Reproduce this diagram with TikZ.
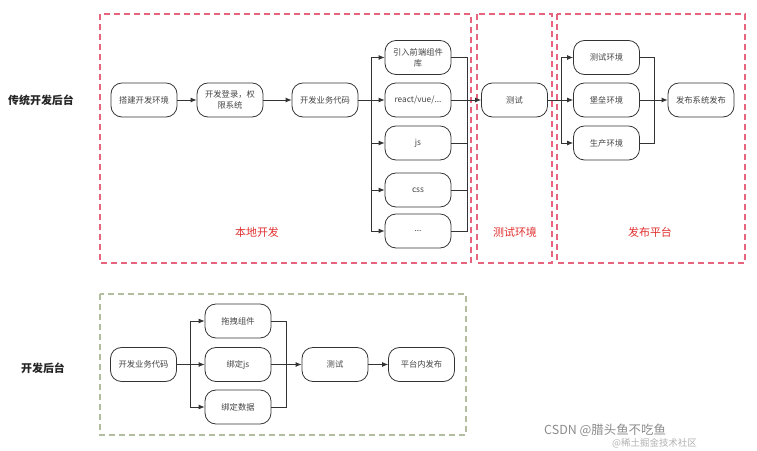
\documentclass[tikz,border=0pt]{standalone}
\usepackage{fontspec}
\newfontfamily\cjk{Noto Sans CJK SC}
\usetikzlibrary{arrows.meta}
\definecolor{ln}{HTML}{333333}
\definecolor{tx}{HTML}{444444}
\definecolor{redlab}{HTML}{E0302F}
\definecolor{framered}{HTML}{E6647E}
\definecolor{framegreen}{HTML}{B2BC9E}
\tikzset{
  box/.style={draw=ln, line width=0.8pt, rounded corners=11pt, minimum width=66bp, minimum height=34bp,
    align=center, inner sep=2pt, text=tx, font=\cjk\fontsize{8.3}{11}\selectfont},
  arr/.style={draw=ln, line width=0.8pt, -{Latex[length=6pt,width=5pt]}},
  plainline/.style={draw=ln, line width=0.8pt},
  redframe/.style={draw=framered, line width=1.3bp, dash pattern=on 6bp off 4bp},
  greenframe/.style={draw=framegreen, line width=1.3bp, dash pattern=on 6bp off 4bp},
  seclab/.style={text=redlab, font=\cjk\fontsize{11}{12}\selectfont},
  rowlab/.style={text=black!85, font=\cjk\bfseries\fontsize{11}{12}\selectfont},
}
\begin{document}
\begin{tikzpicture}[x=1bp,y=-1bp]
\useasboundingbox (0,0) rectangle (757,451);
\fill[white] (0,0) rectangle (757,451);
% frames
\draw[redframe] (100,14) rectangle (471,263);
\draw[redframe] (477,14) rectangle (552,263);
\draw[redframe] (557,14) rectangle (745,263);
\draw[greenframe] (100,294) rectangle (466,435);
% labels
\node[rowlab] (L1) at (41,100) {传统开发后台};
\node[rowlab] (L2) at (43,368) {开发后台};
\node[seclab] (S1) at (257,232) {本地开发};
\node[seclab] (S2) at (515,232) {测试环境};
\node[seclab] (S3) at (650,232) {发布平台};
% top row nodes
\node[box] (a1) at (144,100) {搭建开发环境};
\node[box] (a2) at (230,100) {开发登录，权\\限系统};
\node[box] (a3) at (325,100) {开发业务代码};
\node[box] (c1) at (418,57.5) {引入前端组件\\库};
\node[box] (c2) at (418,100) {react/vue/...};
\node[box] (c3) at (418,143) {js};
\node[box] (c4) at (418,190) {css};
\node[box] (c5) at (418,231) {...};
\node[box] (t1) at (514.5,100) {测试};
\node[box] (p1) at (606.5,57.5) {测试环境};
\node[box] (p2) at (606.5,100) {堡垒环境};
\node[box] (p3) at (606.5,143) {生产环境};
\node[box] (r1) at (701,100) {发布系统发布};
\coordinate (b1) at (371,100);
\coordinate (m1) at (467,100);
\coordinate (b2) at (561,100);
\coordinate (m2) at (654,100);
\draw[arr] (a1) -- (a2);
\draw[arr] (a2) -- (a3);
\draw[plainline] (a3.east) -- (b1);
\foreach \n in {c1,c2,c3,c4,c5} {
  \draw[arr] (b1) |- (\n.west);
  \draw[plainline] (\n.east) -| (m1);
}
\draw[arr] (m1) -- (t1.west);
\draw[plainline] (t1.east) -- (b2);
\foreach \n in {p1,p2,p3} {
  \draw[arr] (b2) |- (\n.west);
  \draw[plainline] (\n.east) -| (m2);
}
\draw[arr] (m2) -- (r1.west);
% bottom row
\node[box] (d1) at (143.5,364.5) {开发业务代码};
\node[box] (e1) at (238,321) {拖拽组件};
\node[box] (e2) at (238,364.5) {绑定js};
\node[box] (e3) at (238,407) {绑定数据};
\node[box] (f1) at (335,364.5) {测试};
\node[box] (g1) at (421.5,364.5) {平台内发布};
\coordinate (b3) at (190,364.5);
\coordinate (m3) at (286,364.5);
\draw[plainline] (d1.east) -- (b3);
\foreach \n in {e1,e2,e3} {
  \draw[arr] (b3) |- (\n.west);
  \draw[plainline] (\n.east) -| (m3);
}
\draw[arr] (m3) -- (f1.west);
\draw[arr] (f1) -- (g1);
% watermark
\node[text=black!45, font=\cjk\fontsize{12.5}{13}\selectfont, anchor=west, inner sep=0] (w1) at (544,430) {CSDN @腊头鱼不吃鱼};
\node[text=black!30, font=\cjk\fontsize{9.5}{10}\selectfont, anchor=west, inner sep=0] (w2) at (612,443) {@稀土掘金技术社区};
\end{tikzpicture}
\end{document}
